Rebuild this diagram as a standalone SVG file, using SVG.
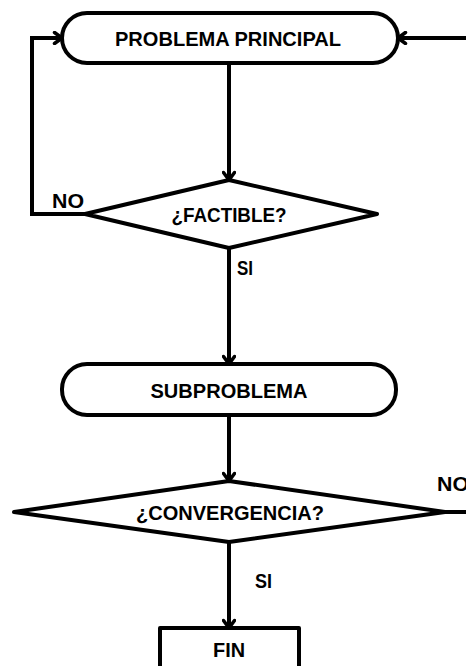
<svg xmlns="http://www.w3.org/2000/svg" width="466" height="666" viewBox="0 0 466 666">
  <style>
    .shape { fill: #fff; stroke: #000; stroke-width: 4; stroke-linejoin: round; }
    .edge { fill: none; stroke: #000; stroke-width: 4; stroke-linejoin: miter; }
    .lbl { font-family: "Liberation Sans", Arial, sans-serif; font-weight: bold; font-size: 20px; fill: #000; }
    .mid { text-anchor: middle; }
  </style>
  <defs>
    <marker id="arrow" viewBox="0 0 14 14" refX="11" refY="7" markerWidth="14" markerHeight="14" markerUnits="userSpaceOnUse" orient="auto">
      <path d="M3.5,1.5 L11,7 L3.5,12.5" fill="none" stroke="#000" stroke-width="3.5" stroke-linecap="round" stroke-linejoin="round"/>
    </marker>
  </defs>
  <rect width="466" height="666" fill="#fff"/>

  <!-- connectors -->
  <g id="connectors">
    <path class="edge" d="M229,63 V180" marker-end="url(#arrow)"/>
    <path class="edge" d="M85,214 H32 V38 H62" marker-end="url(#arrow)"/>
    <path class="edge" d="M466,38 H398" marker-end="url(#arrow)"/>
    <path class="edge" d="M229,248 V364" marker-end="url(#arrow)"/>
    <path class="edge" d="M229,415 V481" marker-end="url(#arrow)"/>
    <path class="edge" d="M445,512 H466"/>
    <path class="edge" d="M229,542 V628" marker-end="url(#arrow)"/>
    <text class="lbl" x="52" y="208" textLength="32" lengthAdjust="spacingAndGlyphs">NO</text>
    <text class="lbl" x="237" y="275" textLength="16" lengthAdjust="spacingAndGlyphs">SI</text>
    <text class="lbl" x="437" y="491" textLength="32" lengthAdjust="spacingAndGlyphs">NO</text>
    <text class="lbl" x="255" y="588" textLength="17" lengthAdjust="spacingAndGlyphs">SI</text>
  </g>

  <g id="problema-principal">
    <rect class="shape" x="62" y="13" width="336" height="50" rx="25" ry="25"/>
    <text class="lbl mid" x="228" y="46" textLength="226" lengthAdjust="spacingAndGlyphs">PROBLEMA PRINCIPAL</text>
  </g>

  <g id="factible">
    <polygon class="shape" points="229,180 377,214 229,248 85,214"/>
    <text class="lbl mid" x="229" y="222" textLength="115" lengthAdjust="spacingAndGlyphs">¿FACTIBLE?</text>
  </g>

  <g id="subproblema">
    <rect class="shape" x="62" y="364" width="334" height="51" rx="25" ry="25"/>
    <text class="lbl mid" x="229" y="398" textLength="157" lengthAdjust="spacingAndGlyphs">SUBPROBLEMA</text>
  </g>

  <g id="convergencia">
    <polygon class="shape" points="229,481 445,512 229,542 14,512"/>
    <text class="lbl mid" x="230" y="520" textLength="188" lengthAdjust="spacingAndGlyphs">¿CONVERGENCIA?</text>
  </g>

  <g id="fin">
    <rect class="shape" x="160" y="628" width="139" height="50" stroke-linejoin="miter"/>
    <text class="lbl mid" x="229" y="657" textLength="32" lengthAdjust="spacingAndGlyphs">FIN</text>
  </g>
</svg>
